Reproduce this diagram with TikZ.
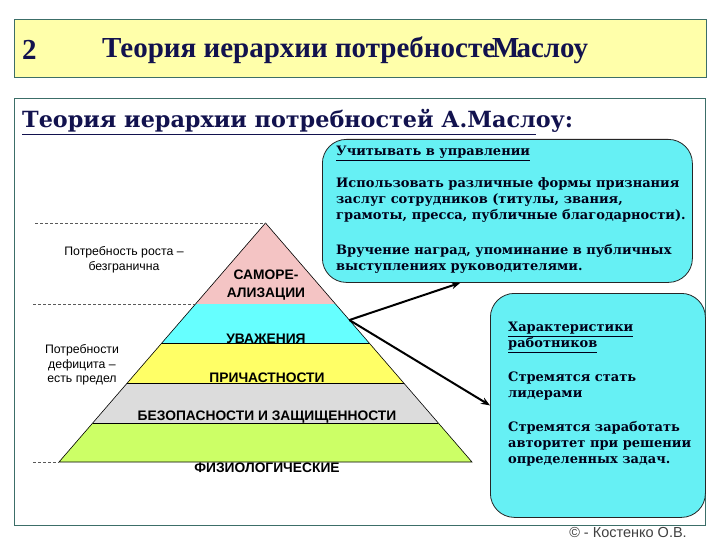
\documentclass[tikz,border=0pt]{standalone}
\usepackage{fontspec}
\setmainfont{Liberation Sans}
\newfontfamily\headfont{Liberation Serif}
\newfontfamily\boxfont{DejaVu Serif}
\usetikzlibrary{arrows.meta,calc}

\definecolor{navy}{HTML}{12124E}
\definecolor{paleyellow}{HTML}{FFFFAA}
\definecolor{framecol}{HTML}{3C6E68}
\definecolor{boxcyan}{HTML}{66F0F4}
\definecolor{bandpink}{HTML}{F4C4C4}
\definecolor{bandcyan}{HTML}{66FFFF}
\definecolor{bandyellow}{HTML}{FFFF66}
\definecolor{bandgrey}{HTML}{DCDCDC}
\definecolor{bandgreen}{HTML}{CCFF66}

\begin{document}
\begin{tikzpicture}[
    x=1pt, y=-1pt,
    tier/.style={font=\bfseries\fontsize{13.8}{15.5}\selectfont, inner sep=0pt},
    side/.style={font=\fontsize{12.3}{14.5}\selectfont, align=center, inner sep=0pt},
    card/.style={draw=black!85, fill=boxcyan, rounded corners=24pt, line width=0.8pt, inner sep=0pt, anchor=north west},
    cardtext/.style={font=\boxfont\bfseries\fontsize{13}{16}\selectfont, align=left, inner sep=0pt, anchor=north west, text=black!90!blue},
    guide/.style={draw=black!65, dash pattern=on 3pt off 2pt, line width=0.6pt},
    pointer/.style={line width=2pt, -{Stealth[length=9pt,width=7pt]}},
  ]
  \useasboundingbox (0,0) rectangle (720,540);
  \fill[white] (0,0) rectangle (720,540);

  \node[draw=framecol, fill=paleyellow, line width=0.8pt, minimum width=692pt, minimum height=58pt, inner sep=0pt, anchor=north west] (header) at (14,19) {};
  \node[anchor=west, font=\headfont\bfseries\fontsize{29}{32}\selectfont, text=navy, inner sep=0pt] (num) at (22,50) {2};
  \node[anchor=west, font=\headfont\bfseries\fontsize{29}{32}\selectfont, text=navy, inner sep=0pt] (headline) at (102,50) {Теория иерархии потребносте\kern-3pt М\kern-3pt аслоу};

  \draw[framecol, line width=0.8pt] (14,98) rectangle (705,525);
  \node[anchor=base west, font=\boxfont\bfseries\fontsize{22.3}{26}\selectfont, text=navy, inner sep=0pt] (subtitle) at (22,128) {\underline{Теория иерархии потребностей А.Масл}оу:};

  \def\apexx{265.5}
  \def\apexy{223}
  \def\slope{0.864}
  \foreach \ytop/\ybot/\shade in {223/304/bandpink, 304/343/bandcyan, 343/383/bandyellow, 383/423/bandgrey, 423/462/bandgreen} {
    \pgfmathsetmacro\wtop{\slope*(\ytop-\apexy)}
    \pgfmathsetmacro\wbot{\slope*(\ybot-\apexy)}
    \fill[\shade] ({\apexx-\wtop},\ytop) -- ({\apexx+\wtop},\ytop) -- ({\apexx+\wbot},\ybot) -- ({\apexx-\wbot},\ybot) -- cycle;
  }
  \foreach \yb in {343, 383, 423} {
    \pgfmathsetmacro\wb{\slope*(\yb-\apexy)}
    \draw[line width=0.6pt] ({\apexx-\wb},\yb) -- ({\apexx+\wb},\yb);
  }
  \coordinate (apex) at (\apexx,\apexy);
  \coordinate (baseL) at ({\apexx-\slope*239},462);
  \coordinate (baseR) at ({\apexx+\slope*239},462);
  \draw[line width=0.6pt] (baseL) -- (apex) -- (baseR) -- cycle;

  \draw[guide] (35,223) -- (apex);
  \draw[guide] (33,304) -- ({\apexx-\slope*81},304);
  \draw[guide] (33,462) -- (baseL);

  \node[tier, align=center] (selfreal) at (266,285) {САМОРЕ-\\[2pt]АЛИЗАЦИИ};
  \node[tier] (esteem) at (266,339) {УВАЖЕНИЯ};
  \node[tier] (belong) at (267,378) {ПРИЧАСТНОСТИ};
  \node[tier] (safety) at (267,417) {БЕЗОПАСНОСТИ И ЗАЩИЩЕННОСТИ};
  \node[tier] (physio) at (267,468) {ФИЗИОЛОГИЧЕСКИЕ};

  \node[side] (growth) at (124,260) {Потребность роста –\\безгранична};
  \node[side] (deficit) at (82,365) {Потребности\\дефицита –\\есть предел};

  \node[card, minimum width=370pt, minimum height=143pt] (box1) at (322,139) {};
  \node[cardtext] (box1text) at ([xshift=14pt, yshift=-7pt]box1.north west)
    {\underline{Учитывать в управлении}\\[16pt]
     Использовать различные формы признания\\
     заслуг сотрудников (титулы, звания,\\
     грамоты, пресса, публичные благодарности).\\[19pt]
     Вручение наград, упоминание в публичных\\
     выступлениях руководителями.};

  \node[card, minimum width=215pt, minimum height=224pt] (box2) at (490,293) {};
  \node[cardtext] (box2text) at ([xshift=18pt, yshift=-29pt]box2.north west)
    {\underline{Характеристики}\\
     \underline{работников}\\[18pt]
     Стремятся стать\\
     лидерами\\[18pt]
     Стремятся заработать\\
     авторитет при решении\\
     определенных задач.};

  \coordinate (hook) at ($(apex)!0.406!(baseR)$);
  \draw[pointer] (hook) -- ($(box1.south west)!0.373!(box1.south east)$);
  \draw[pointer] (hook) -- (box2.west);

  \node[font=\fontsize{14.5}{16}\selectfont, text=black!75, inner sep=0pt] (credit) at (628,533) {© - Костенко О.В.};
\end{tikzpicture}
\end{document}
